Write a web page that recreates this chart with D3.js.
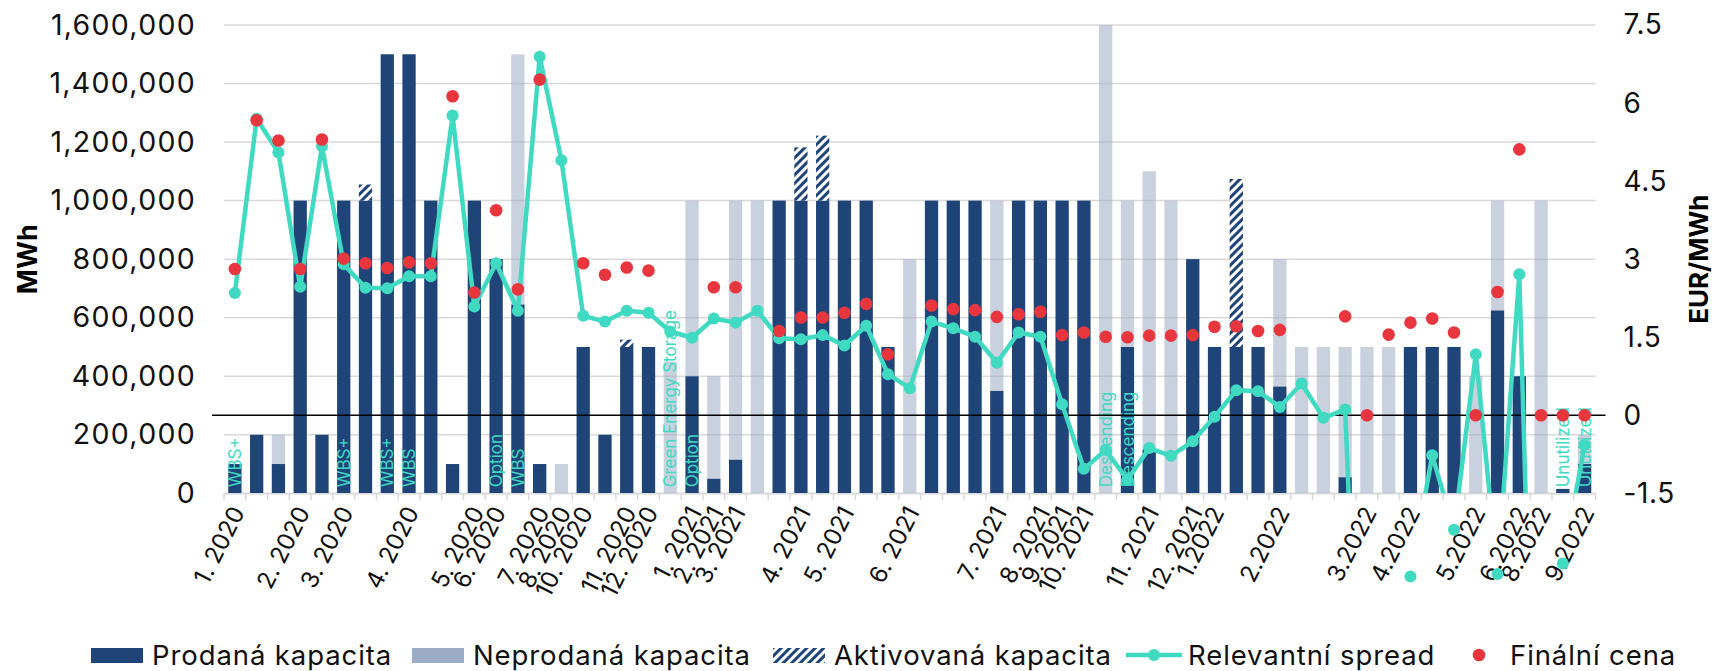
<html>
  <head>
    <meta charset="utf-8" />
    <title>Prodaná kapacita a spread</title>
    <script src="https://cdn.jsdelivr.net/npm/d3@7"></script>
    <style>
      body { margin: 0; background: #fff; }
      text { font-family: Inter, "Noto Sans", sans-serif; }
    </style>
  </head>
  <body>
    <div id="chart"></div>
    <script>
      // tick labels per month slot ("" = no label)
      var labels = [
        "1. 2020", "", "", "2. 2020", "", "3. 2020", "", "", "4. 2020", "",
        "", "5. 2020", "6. 2020", "", "7. 2020", "8. 2020", "10. 2020", "", "11. 2020", "12. 2020",
        "", "1. 2021", "2. 2021", "3. 2021", "", "", "4. 2021", "", "5. 2021", "",
        "", "6. 2021", "", "", "", "7. 2021", "", "8. 2021", "9. 2021", "10. 2021",
        "", "", "11. 2021", "", "12. 2021", "1.2022", "", "", "2.2022", "",
        "", "", "3.2022", "", "4.2022", "", "", "5.2022", "", "6.2022",
        "8.2022", "", "9.2022"
      ];

      var sold = [
        100000, 200000, 100000, 1000000, 200000, 1000000, 1000000, 1500000, 1500000, 1000000,
        100000, 1000000, 800000, 645000, 100000, 0, 500000, 200000, 500000, 500000,
        0, 400000, 50000, 115000, 0, 1000000, 1000000, 1000000, 1000000, 1000000,
        500000, 0, 1000000, 1000000, 1000000, 350000, 1000000, 1000000, 1000000, 1000000,
        0, 500000, 150000, 0, 800000, 500000, 500000, 500000, 365000, 0,
        0, 55000, 0, 0, 500000, 500000, 500000, 0, 625000, 400000,
        0, 15000, 100000
      ];

      var unsold = [
        0, 0, 100000, 0, 0, 0, 0, 0, 0, 0,
        0, 0, 0, 855000, 0, 100000, 0, 0, 0, 0,
        450000, 600000, 350000, 885000, 1000000, 0, 0, 0, 0, 0,
        0, 800000, 0, 0, 0, 650000, 0, 0, 0, 0,
        1600000, 500000, 950000, 1000000, 0, 0, 0, 0, 435000, 500000,
        500000, 445000, 500000, 500000, 0, 0, 0, 400000, 375000, 0,
        1000000, 0, 100000
      ];

      var activated = [
        0, 0, 0, 0, 0, 0, 55000, 0, 0, 0,
        0, 0, 0, 0, 0, 0, 0, 0, 25000, 0,
        0, 0, 0, 0, 0, 0, 182000, 222000, 0, 0,
        0, 0, 0, 0, 0, 0, 0, 0, 0, 0,
        0, 0, 0, 0, 0, 0, 574000, 0, 0, 0,
        0, 0, 0, 0, 0, 0, 0, 0, 0, 0,
        0, 0, 0
      ];

      var spread = [
        2.35, 5.7, 5.05, 2.47, 5.17, 2.9, 2.45, 2.44, 2.67, 2.67,
        5.76, 2.09, 2.92, 2.01, 6.89, 4.9, 1.91, 1.8, 2.01, 1.97,
        1.61, 1.49, 1.86, 1.78, 2.01, 1.48, 1.46, 1.54, 1.34, 1.72,
        0.79, 0.52, 1.8, 1.67, 1.51, 1.01, 1.59, 1.51, 0.21, -1.03,
        -0.67, -1.24, -0.63, -0.78, -0.5, -0.03, 0.48, 0.46, 0.16, 0.61,
        -0.05, 0.11, -10, -7, -3.1, -0.77, -2.2, 1.17, -3.05, 2.71,
        -12, -2.85, -0.57
      ];

      var finalPrice = [
        2.81, 5.67, 5.28, 2.81, 5.3, 3.01, 2.92, 2.83, 2.94, 2.92,
        6.13, 2.36, 3.94, 2.42, 6.45, null, 2.92, 2.7, 2.84, 2.78,
        null, null, 2.46, 2.46, null, 1.62, 1.88, 1.88, 1.97, 2.14,
        1.17, null, 2.11, 2.04, 2.02, 1.89, 1.94, 1.99, 1.54, 1.59,
        1.51, 1.5, 1.53, 1.53, 1.54, 1.7, 1.71, 1.62, 1.64, null,
        null, 1.9, 0, 1.55, 1.78, 1.86, 1.59, 0, 2.37, 5.11,
        0, 0, 0
      ];

      // product notes written over the bars
      var noteIndex = [0, 5, 7, 8, 12, 13, 20, 21, 40, 41, 61, 62];
      var noteText = ["WBS+", "WBS+", "WBS+", "WBS", "Option", "WBS",
        "Green Energy Storage", "Option", "Descending", "Descending", "Unutilized", "Unutilized"];

      var leftTicks = [0, 200000, 400000, 600000, 800000, 1000000, 1200000, 1400000, 1600000];
      var rightTicks = [-1.5, 0, 1.5, 3, 4.5, 6, 7.5];

      var navy = "#1f4478", grey = "#9cacc5", teal = "#40d9c1", red = "#e8363f";
      var width = 1717, height = 671;
      var plot = { left: 224, right: 1595.5, top: 25, bottom: 493.3 };

      var svg = d3.select("#chart").append("svg")
        .attr("width", width)
        .attr("height", height);

      var defs = svg.append("defs");
      var hatch = defs.append("pattern")
        .attr("id", "hatch")
        .attr("patternUnits", "userSpaceOnUse")
        .attr("width", 6)
        .attr("height", 6)
        .attr("patternTransform", "rotate(45)");
      hatch.append("rect").attr("width", 6).attr("height", 6).attr("fill", "#fff");
      hatch.append("rect").attr("width", 3).attr("height", 6).attr("fill", navy);

      defs.append("clipPath").attr("id", "plotClip")
        .append("rect")
        .attr("x", 0).attr("y", 0)
        .attr("width", width).attr("height", plot.bottom);

      var x = d3.scaleBand()
        .domain(d3.range(labels.length))
        .range([plot.left, plot.right])
        .paddingInner(0.39)
        .paddingOuter(0.195);
      var yL = d3.scaleLinear().domain([0, 1600000]).range([plot.bottom, plot.top]);
      var yR = d3.scaleLinear().domain([-1.5, 7.5]).range([plot.bottom, plot.top]);
      var cx = (i) => x(i) + x.bandwidth() / 2;

      // gridlines
      svg.append("g")
        .selectAll("line")
        .data(leftTicks)
        .join("line")
        .attr("x1", plot.left)
        .attr("x2", plot.right)
        .attr("y1", (d) => yL(d))
        .attr("y2", (d) => yL(d))
        .attr("stroke", "#d9d9d9")
        .attr("stroke-width", 1.5);

      // category tick marks
      svg.append("g")
        .selectAll("line")
        .data(d3.range(labels.length + 1))
        .join("line")
        .attr("x1", (k) => plot.left + k * x.step())
        .attr("x2", (k) => plot.left + k * x.step())
        .attr("y1", plot.bottom)
        .attr("y2", plot.bottom + 7)
        .attr("stroke", "#d9d9d9")
        .attr("stroke-width", 1.5);

      // stacked bars
      var rows = labels.map((l, i) => ({ i: i, sold: sold[i], activated: activated[i], unsold: unsold[i] }));
      var series = d3.stack().keys(["sold", "activated", "unsold"])(rows);
      var fills = { sold: navy, activated: "url(#hatch)", unsold: grey };

      svg.append("g")
        .selectAll("g")
        .data(series)
        .join("g")
        .attr("fill", (s) => fills[s.key])
        .attr("fill-opacity", (s) => (s.key == "unsold" ? 0.55 : 1))
        .selectAll("rect")
        .data((s) => s.filter((d) => d[1] > d[0]))
        .join("rect")
        .attr("x", (d) => x(d.data.i))
        .attr("width", x.bandwidth())
        .attr("y", (d) => yL(d[1]))
        .attr("height", (d) => yL(d[0]) - yL(d[1]));

      // notes
      svg.append("g")
        .selectAll("text")
        .data(noteIndex)
        .join("text")
        .attr("transform", (i) => "translate(" + cx(i) + "," + (plot.bottom - 6) + ") rotate(-90)")
        .attr("dy", "0.36em")
        .attr("fill", teal)
        .attr("font-size", 17)
        .text((i, k) => noteText[k]);

      // left axis
      var axL = svg.append("g")
        .attr("transform", "translate(" + plot.left + ",0)")
        .call(d3.axisLeft(yL).tickValues(leftTicks).tickFormat(d3.format(",")).tickSize(0).tickPadding(28));
      axL.select(".domain").remove();
      axL.selectAll("text")
        .attr("font-size", 28.5)
        .attr("letter-spacing", 1.3)
        .attr("fill", "#111")
        .style("font-family", "Inter");

      // right axis
      var axR = svg.append("g")
        .attr("transform", "translate(" + plot.right + ",0)")
        .call(d3.axisRight(yR).tickValues(rightTicks).tickFormat((d) => String(d)).tickSize(0).tickPadding(28));
      axR.select(".domain").remove();
      axR.selectAll("text")
        .attr("font-size", 28)
        .attr("letter-spacing", 0.6)
        .attr("fill", "#111")
        .style("font-family", "Inter");

      // x axis labels
      var axB = svg.append("g")
        .attr("transform", "translate(0," + plot.bottom + ")")
        .call(d3.axisBottom(x).tickFormat((i) => labels[i]).tickSize(0).tickSizeOuter(0));
      axB.select(".domain").attr("stroke", "#d9d9d9").attr("stroke-width", 1.5);
      axB.selectAll("text")
        .attr("x", 0)
        .attr("y", 0)
        .attr("dy", "0.35em")
        .attr("transform", "translate(3,15) rotate(-63)")
        .attr("text-anchor", "end")
        .attr("font-size", 24)
        .attr("fill", "#111")
        .style("font-family", "Inter");

      // axis titles
      svg.append("text")
        .attr("transform", "translate(37," + (plot.top + plot.bottom) / 2 + ") rotate(-90)")
        .attr("text-anchor", "middle")
        .attr("font-size", 27)
        .attr("font-weight", "bold")
        .text("MWh");
      svg.append("text")
        .attr("transform", "translate(1708," + (plot.top + plot.bottom) / 2 + ") rotate(-90)")
        .attr("text-anchor", "middle")
        .attr("font-size", 26)
        .attr("font-weight", "bold")
        .text("EUR/MWh");

      // zero line of the price axis
      svg.append("line")
        .attr("x1", plot.left - 12)
        .attr("x2", plot.right + 10)
        .attr("y1", yR(0))
        .attr("y2", yR(0))
        .attr("stroke", "#000")
        .attr("stroke-width", 1.3);

      // spread line
      var line = d3.line().x((v, i) => cx(i)).y((v) => yR(v));
      svg.append("path")
        .datum(spread)
        .attr("clip-path", "url(#plotClip)")
        .attr("fill", "none")
        .attr("stroke", teal)
        .attr("stroke-width", 4.5)
        .attr("stroke-linejoin", "round")
        .attr("d", line);

      svg.append("g")
        .selectAll("circle")
        .data(spread)
        .join("circle")
        .attr("cx", (v, i) => cx(i))
        .attr("cy", (v) => yR(v))
        .attr("r", 6)
        .attr("fill", teal);

      // final price dots
      svg.append("g")
        .selectAll("circle")
        .data(finalPrice.map((v, i) => ({ v: v, i: i })).filter((d) => d.v != null))
        .join("circle")
        .attr("cx", (d) => cx(d.i))
        .attr("cy", (d) => yR(d.v))
        .attr("r", 6.3)
        .attr("fill", red);

      // legend
      var lg = svg.append("g").attr("transform", "translate(0,655)");
      lg.append("rect").attr("x", 91).attr("y", -7).attr("width", 52).attr("height", 15).attr("fill", navy);
      lg.append("rect").attr("x", 412).attr("y", -7).attr("width", 52).attr("height", 15).attr("fill", grey);
      lg.append("rect").attr("x", 773).attr("y", -7).attr("width", 52).attr("height", 15).attr("fill", "url(#hatch)");
      lg.append("line").attr("x1", 1126).attr("x2", 1182).attr("stroke", teal).attr("stroke-width", 4.5);
      lg.append("circle").attr("cx", 1154).attr("r", 6).attr("fill", teal);
      lg.append("circle").attr("cx", 1479).attr("r", 6.3).attr("fill", red);

      var legendText = [
        [152, "Prodaná kapacita"],
        [473, "Neprodaná kapacita"],
        [834, "Aktivovaná kapacita"],
        [1188, "Relevantní spread"],
        [1510, "Finální cena"]
      ];
      lg.selectAll("text.lt")
        .data(legendText)
        .join("text")
        .attr("class", "lt")
        .attr("x", (d) => d[0])
        .attr("y", 0)
        .attr("dy", "0.35em")
        .attr("font-size", 27.5)
        .attr("letter-spacing", 0.9)
        .attr("fill", "#111")
        .text((d) => d[1]);
    </script>
  </body>
</html>
